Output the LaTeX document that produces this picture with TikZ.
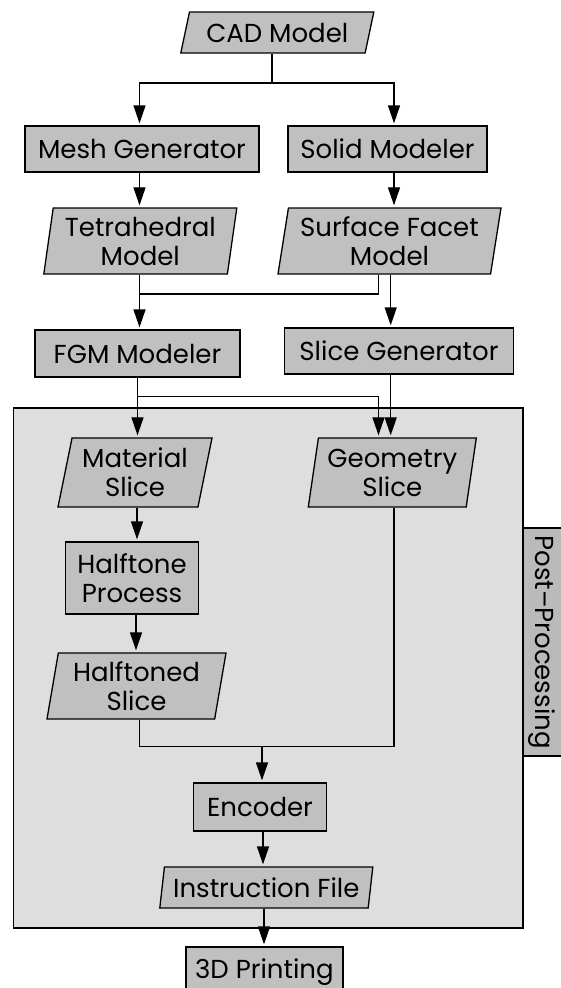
\documentclass[tikz,border=0pt]{standalone}
\usepackage{fontspec}
\setmainfont{Poppins}
\usetikzlibrary{shapes.geometric,arrows.meta}
\definecolor{nodegray}{RGB}{192,192,192}
\definecolor{bggray}{RGB}{222,222,222}
\definecolor{tabgray}{RGB}{186,186,186}
\begin{document}
\begin{tikzpicture}[x=1pt,y=-1pt,
  every node/.style={font=\fontsize{26}{29}\selectfont, text=black},
  box/.style={draw=black, line width=1.3pt, fill=nodegray, inner sep=0pt, align=center},
  rbox/.style={box, rectangle},
  pbox/.style={box, trapezium, trapezium stretches body},
  conn/.style={line width=1.3pt},
  arr/.style={conn, -{Triangle[length=18pt,width=12pt]}, shorten >=2pt}]
\useasboundingbox (0,0) rectangle (561,988);
\clip (0,0) rectangle (561,988);
\fill[white] (0,0) rectangle (561,988);

% post-processing frame and tab
\draw[line width=1.3pt, fill=tabgray] (523,528) rectangle (570,756);
\draw[line width=1.3pt, fill=bggray] (13.6,408) rectangle (523,928);
\node[rotate=-90] (pp) at (541.5,642) {Post–Processing};

% nodes
\node[pbox, trapezium left angle=66, trapezium right angle=114, minimum width=193, minimum height=41] (cad) at (277.3,32.5) {CAD Model};
\node[rbox, minimum width=234, minimum height=46] (mesh) at (142,149) {Mesh Generator};
\node[rbox, minimum width=199, minimum height=46] (solid) at (387.5,149) {Solid Modeler};
\node[pbox, trapezium left angle=79, trapezium right angle=101, minimum width=193, minimum height=66] (tetra) at (140.3,241) {Tetrahedral\\Model};
\node[pbox, trapezium left angle=78, trapezium right angle=102, minimum width=223, minimum height=66] (surf) at (389.5,241) {Surface Facet\\Model};
\node[rbox, minimum width=205, minimum height=47] (fgm) at (137.5,353.5) {FGM Modeler};
\node[rbox, minimum width=229, minimum height=46] (sgen) at (399,351) {Slice Generator};
\node[pbox, trapezium left angle=74, trapezium right angle=106, minimum width=154, minimum height=69] (mat) at (135,472.5) {Material\\Slice};
\node[pbox, trapezium left angle=78, trapezium right angle=102, minimum width=168, minimum height=69] (geo) at (392.3,472.5) {Geometry\\Slice};
\node[rbox, minimum width=133, minimum height=72] (half) at (132,578) {Halftone\\Process};
\node[pbox, trapezium left angle=77, trapezium right angle=103, minimum width=179, minimum height=66] (htd) at (136.5,686) {Halftoned\\Slice};
\node[rbox, minimum width=133, minimum height=48] (enc) at (260,807) {Encoder};
\node[pbox, trapezium left angle=77, trapezium right angle=103, minimum width=213, minimum height=41] (ins) at (266.3,887.5) {Instruction File};
\node[rbox, minimum width=157, minimum height=50] (print) at (264.4,972) {3D Printing};

% junction coordinates
\coordinate (j1) at (272,83);
\coordinate (xl) at (139.5,0);
\coordinate (xr) at (394,0);
\coordinate (j2) at (139.5,294);
\coordinate (xs) at (378.5,0);
\coordinate (xg) at (390.7,0);
\coordinate (j3) at (137.5,396.7);
\coordinate (j4) at (139.5,746.7);
\coordinate (xe) at (262,746.7);

% connectors
\draw[conn] (cad.south -| j1) -- (j1);
\draw[arr] (j1) -| (mesh.north -| xl);
\draw[arr] (j1) -| (solid.north -| xr);
\draw[arr] (mesh.south -| xl) -- (tetra.north -| xl);
\draw[arr] (solid.south -| xr) -- (surf.north -| xr);
\draw[arr] (tetra.south -| xl) -- (fgm.north -| xl);
\draw[conn] (surf.south -| xs) |- (j2);
\draw[arr] (surf.south -| xg) -- (sgen.north -| xg);
\draw[arr] (fgm.south -| j3) -- (mat.north -| j3);
\draw[arr] (j3) -| (geo.north -| xs);
\draw[arr] (sgen.south -| xg) -- (geo.north -| xg);
\draw[arr] (mat.south -| 137,0) -- (half.north -| 137,0);
\draw[arr] (half.south -| 136,0) -- (htd.north -| 136,0);
\draw[conn] (htd.south -| j4) -- (j4) -- (j4 -| xr);
\draw[conn] (geo.south -| xr) -- (j4 -| xr);
\draw[arr] (xe) -- (enc.north -| xe);
\draw[arr] (enc.south -| 263,0) -- (ins.north -| 263,0);
\draw[arr] (ins.south -| 264,0) -- (print.north -| 264,0);
\end{tikzpicture}
\end{document}
